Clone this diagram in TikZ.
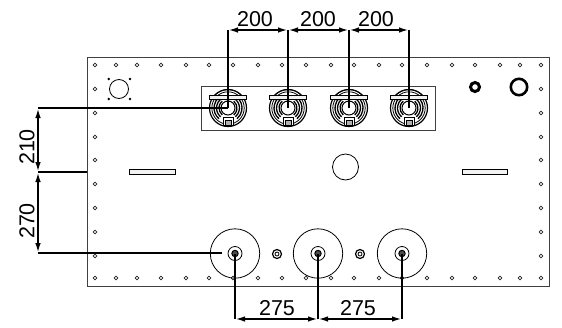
\documentclass[tikz,border=0pt]{standalone}
\usepackage{fontspec}
\setmainfont{Liberation Sans}
\usetikzlibrary{arrows.meta}
\tikzset{
  plate/.style={draw=black!75, line width=1pt},
  part/.style={draw=black, line width=0.8pt},
  boltref/.style={draw=black!85, line width=0.8pt},
  dimline/.style={draw=black, line width=1.9pt, {Latex[length=10pt,width=5.5pt]}-{Latex[length=10pt,width=5.5pt]}},
  extline/.style={draw=black, line width=1.9pt},
  dimtext/.style={font=\fontsize{21.5}{21.5}\selectfont, inner sep=0pt},
}
\begin{document}
\begin{tikzpicture}[x=1pt,y=-1pt]
\useasboundingbox (0,0) rectangle (562,327);
\draw[plate] (87.5,57.5) rectangle (549.5,286.5); % plate
% bolt circle round the plate
\foreach \px in {95,116,137,161,186,209,233,258,282,306,331,354,379,402,427,452,475,500,520,541} {
  \draw[boltref] (\px,65) circle (1.9);
  \draw[boltref] (\px,278) circle (1.9);
}
\foreach \py in {89,113,137,160,184,208,232,256} {
  \draw[boltref] (95,\py) circle (1.9);
  \draw[boltref] (541,\py) circle (1.9);
}
% upper left opening
\draw[part] (119,89) circle (9.5);
\foreach \px in {108.7,130} \foreach \py in {79,99} \fill (\px,\py) circle (1.4);
% openings upper right
\draw[draw=black, line width=3pt] (475,87) circle (4.5);
\draw[draw=black, line width=2.6pt] (519,87) circle (8.2);
% slots and centre opening
\draw[part, fill=black!5] (129.5,169.5) rectangle (175.5,174);
\draw[part, fill=black!5] (462.5,169.5) rectangle (507.5,174);
\draw[part] (345.5,167) circle (13);
% high voltage frame
\draw[plate] (201.7,86.7) rectangle (435,130);
% high voltage bushings
\foreach \n/\cx in {1/228,2/288,3/349,4/409} {
  \coordinate (hv\n) at (\cx,108);
  \coordinate (dt\n) at (\cx,30);
  \begin{scope}[shift={(\cx,108)}]
    \draw[part] (-13,-13) arc[start angle=225, end angle=315, radius=18.4]; % hood
    \foreach \r in {9,11.5,14} {
      \draw[black, line width=1.3pt] (130:\r) arc[start angle=130, end angle=230, radius=\r];
      \draw[black, line width=1.3pt] (-50:\r) arc[start angle=-50, end angle=50, radius=\r];
    }
    \draw[part, line width=1.2pt] (0,0) circle (18.5);
    \draw[part] (0,0) circle (16.2);
    \draw[part, fill=white, line width=1pt] (0,0) circle (7);
    \draw[part, fill=black!5, line width=1pt] (-18.7,-13) rectangle (18.7,-8.7);
    \draw[part, fill=white, line width=1pt] (-5,9.3) rectangle (5,17);
    \draw[part, fill=black!30, line width=1pt] (-3,12) rectangle (3,17);
  \end{scope}
}
% low voltage bushings
\foreach \n/\cx in {1/235,2/318,3/402} {
  \coordinate (lv\n) at (\cx,254);
  \coordinate (db\n) at (\cx,319);
  \draw[part] (\cx,253.5) circle (24.7);
  \draw[part] (\cx,253.5) circle (7);
  \draw[black, fill=black!70, line width=1pt] (\cx,253.5) circle (3.2);
}
\foreach \cx in {277,360} {
  \draw[black, line width=1.2pt] (\cx,254) circle (4.5);
  \draw[black, line width=0.8pt] (\cx,254) circle (2);
}
% left dimension feet
\coordinate (dl1) at (38,108);
\coordinate (dl2) at (38,172);
\coordinate (dl3) at (38,253);
\coordinate (pe) at (87,172);
\coordinate (lve) at (222,253);
% extension lines
\foreach \n in {1,2,3,4} \draw[extline] (dt\n) -- (hv\n);
\foreach \n in {1,2,3} \draw[extline] (lv\n) -- (db\n);
\draw[extline] (dl1) -- (hv1);
\draw[extline] (dl2) -- (pe);
\draw[extline] (dl3) -- (lve);
% dimensions
\draw[dimline] (dt1) -- (dt2);
\draw[dimline] (dt2) -- (dt3);
\draw[dimline] (dt3) -- (dt4);
\draw[dimline] (db1) -- (db2);
\draw[dimline] (db2) -- (db3);
\draw[dimline] (dl1) -- (dl2);
\draw[dimline] (dl2) -- (dl3);
% dimension labels
\node[dimtext] (w1) at (255,19.5) {200};
\node[dimtext] (w2) at (318,19.5) {200};
\node[dimtext] (w3) at (376,19.5) {200};
\node[dimtext] (u1) at (277,308) {275};
\node[dimtext] (u2) at (358,308) {275};
\node[dimtext, rotate=90] (h1) at (27,147) {210};
\node[dimtext, rotate=90] (h2) at (27,221) {270};
\end{tikzpicture}
\end{document}
